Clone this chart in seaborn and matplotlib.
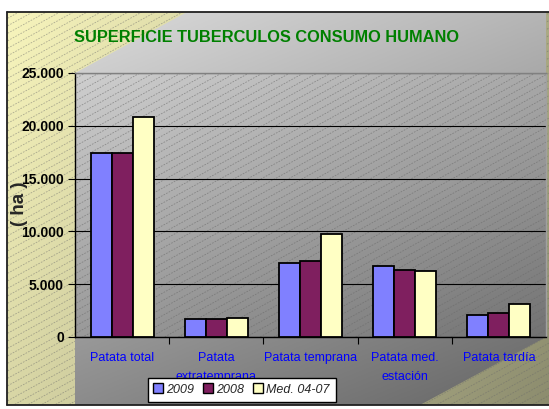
import numpy as np
import pandas as pd
import matplotlib
matplotlib.use("Agg")
import matplotlib.pyplot as plt
import matplotlib.colors as mcolors
import seaborn as sns
from matplotlib.patches import Polygon, Rectangle
from matplotlib.collections import LineCollection
from matplotlib.lines import Line2D

# data (ha)
categories = ["Patata total", "Patata\nextratemprana", "Patata temprana",
              "Patata med.\nestación", "Patata tardía"]
series = ["2009", "2008", "Med. 04-07"]
v2009 = [17400, 1700, 7000, 6700, 2050]
v2008 = [17400, 1700, 7200, 6300, 2270]
vmed = [20800, 1830, 9750, 6250, 3100]
yticks = [0, 5000, 10000, 15000, 20000, 25000]
colors = ["#8080FF", "#7F1F5F", "#FFFFC4"]

df = pd.DataFrame({
    "cat": categories * 3,
    "serie": [s for s in series for _ in categories],
    "ha": v2009 + v2008 + vmed,
})

W, H = 549, 409
sns.set_theme(style="white")
plt.rcParams["font.family"] = ["Liberation Sans", "DejaVu Sans"]

fig = plt.figure(figsize=(W / 100, H / 100), dpi=100)
fig.patch.set_facecolor("white")

# background: whole figure in pixel coords
bg = fig.add_axes([0, 0, 1, 1])
bg.set_xlim(0, W)
bg.set_ylim(H, 0)
bg.axis("off")

x0, x1, y0, y1 = 7, 549, 12, 405
xx, yy = np.meshgrid(np.linspace(x0, x1, 300), np.linspace(y0, y1, 300))


def grad(c0, c1, t):
    a = np.array(mcolors.to_rgb(c0))
    b = np.array(mcolors.to_rgb(c1))
    return np.clip(a + (b - a) * t[..., None], 0, 1)


def hatch(clip, z, alpha):
    s, d = 0.55, 7.5
    segs = [[(0, c), (W, c - s * W)] for c in np.arange(0, H + s * W, d)]
    lc = LineCollection(segs, colors="#6a6a6a", linewidths=0.6,
                        linestyles=(0, (2, 1.5)), alpha=alpha, zorder=z)
    bg.add_collection(lc)
    lc.set_clip_path(clip)


t_yel = 0.7 * (xx / W) + 0.3 * (yy / H)
t_grey = 0.35 * (xx / W) + 0.65 * (yy / H)

outer = Rectangle((x0, y0), x1 - x0, y1 - y0, transform=bg.transData)
bg.imshow(grad("#FAF7BE", "#8C8C6E", t_yel), extent=(x0, x1, y1, y0), aspect="auto", zorder=0)
hatch(outer, 1, 0.5)

grey_shape = Polygon([(187, 12), (546, 12), (546, 337), (420, 405), (75, 405), (75, 73)],
                     closed=True, transform=bg.transData)
im = bg.imshow(grad("#E4E4E4", "#646464", t_grey), extent=(x0, x1, y1, y0),
               aspect="auto", zorder=2)
im.set_clip_path(grey_shape)

plot_rect = Rectangle((75, 73), 546 - 75, 337 - 73, transform=bg.transData)
hatch(plot_rect, 3, 0.6)

bg.plot([7, 549], [12, 12], color="#202020", lw=1.3, zorder=5)
bg.plot([7, 7], [12, 405], color="#202020", lw=1.3, zorder=5)
bg.plot([7, 549], [405, 405], color="#202020", lw=1.3, zorder=5)

# plot area
ax = fig.add_axes([75 / W, (H - 337) / H, (546 - 75) / W, (337 - 73) / H])
ax.patch.set_alpha(0)
sns.barplot(data=df, x="cat", y="ha", hue="serie", palette=colors, width=0.667,
            edgecolor="black", linewidth=1.3, saturation=1, ax=ax, legend=False, zorder=3)
ax.set_xlim(-0.5, 4.5)
ax.set_ylim(0, 25000)
ax.yaxis.grid(True, color="black", lw=0.8)
ax.set_axisbelow(True)

ax.set_yticks(yticks)
ax.set_yticklabels([f"{v:,.0f}".replace(",", ".") for v in yticks],
                   fontsize=10, fontweight="bold", color="black")
ax.set_xticks(range(len(categories)))
ax.set_xticklabels(categories, fontsize=9, color="#0000FF", linespacing=1.75)
ax.set_xticks([0.5, 1.5, 2.5, 3.5], minor=True)
ax.tick_params(axis="y", left=True, length=5, width=0.8, color="black", pad=3)
ax.tick_params(axis="x", which="major", length=0, pad=11)
ax.tick_params(axis="x", which="minor", bottom=True, length=5, width=0.8, color="black")
ax.set_xlabel("")
ax.set_ylabel("")
for side, c in [("left", "black"), ("bottom", "black"), ("top", "#808080"), ("right", "#a0a0a0")]:
    ax.spines[side].set_color(c)
    ax.spines[side].set_linewidth(1.0)

fig.text(19 / W, 1 - 204 / H, "( ha )", rotation=90, fontsize=13.5, fontweight="bold",
         ha="center", va="center")
fig.text(267 / W, 1 - 38 / H, "SUPERFICIE TUBERCULOS CONSUMO HUMANO", color="#008000",
         fontsize=11.8, fontweight="bold", ha="center", va="center")

handles = [Line2D([], [], marker="s", ls="", markersize=7, markerfacecolor=c,
                  markeredgecolor="black", markeredgewidth=1) for c in colors]
leg = fig.legend(handles, series, loc="lower left", bbox_to_anchor=(148 / W, 1 - 402 / H),
                 ncol=3, frameon=True, fancybox=False, borderaxespad=0,
                 prop={"style": "italic", "size": 9}, handlelength=0.6,
                 handletextpad=0.35, columnspacing=0.8, borderpad=0.5)
leg.get_frame().set_edgecolor("black")
leg.get_frame().set_facecolor("white")
leg.get_frame().set_alpha(1)
leg.get_frame().set_linewidth(1.0)
leg.set_zorder(10)

fig.savefig("out.png", dpi=100)
